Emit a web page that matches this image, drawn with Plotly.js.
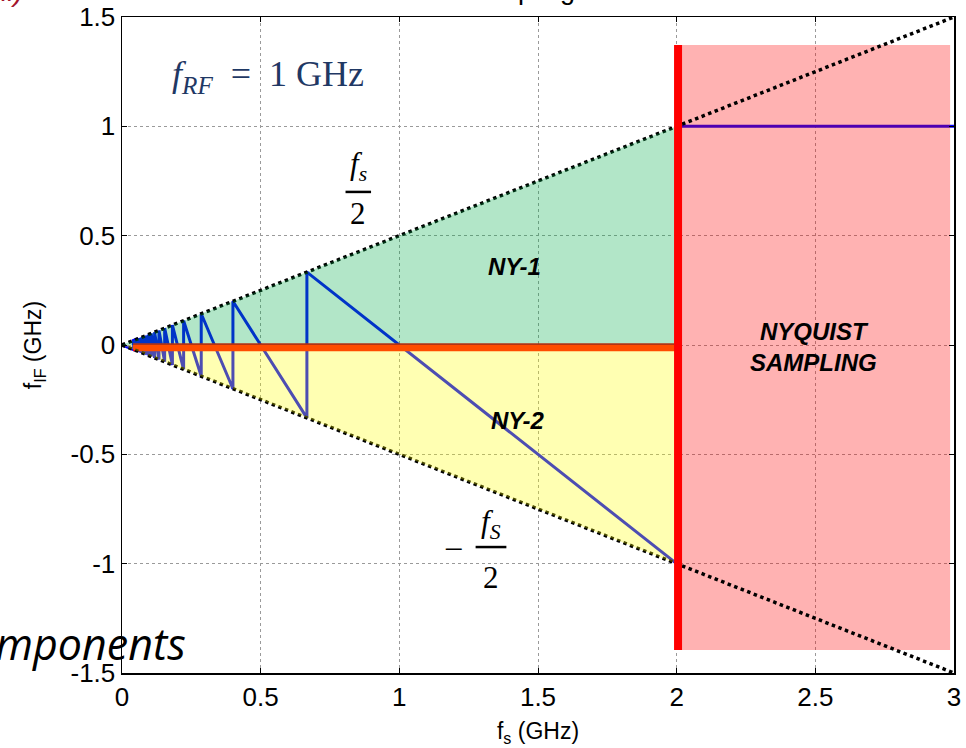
<!DOCTYPE html>
<html>
<head>
<meta charset="utf-8">
<script src="https://cdn.plot.ly/plotly-3.0.1.min.js"></script>
<style>
  html, body { margin: 0; padding: 0; background: #ffffff; overflow: hidden; }
  #chart { width: 966px; height: 748px; }
</style>
</head>
<body>
<div id="chart"></div>
<script>
// Aliased IF frequency of a 1 GHz RF tone versus sampling rate fs (both in GHz)
const aliasFs = [3, 2, 2, 0.6667, 0.6667, 0.4, 0.4, 0.2857, 0.2857, 0.2222, 0.2222,
  0.1818, 0.1818, 0.1538, 0.1538, 0.1333, 0.1333, 0.1176, 0.1176, 0.1053, 0.1053,
  0.0952, 0.0952, 0.0870, 0.0870, 0.0800, 0.0800, 0.0741, 0.0741, 0.0690, 0.0690,
  0.0645, 0.0645, 0.0606, 0.0606, 0.0571, 0.0571, 0.0541, 0.0541, 0.0513, 0.0513,
  0.0488, 0.0488, 0.0465, 0.0465, 0.0444, 0.0444, 0.0425, 0.0425, 0.0408, 0.0408, 0];
const aliasIF = [1, 1, -1, 0.3333, -0.3333, 0.2, -0.2, 0.1429, -0.1429, 0.1111, -0.1111,
  0.0909, -0.0909, 0.0769, -0.0769, 0.0667, -0.0667, 0.0588, -0.0588, 0.0526, -0.0526,
  0.0476, -0.0476, 0.0435, -0.0435, 0.0400, -0.0400, 0.0370, -0.0370, 0.0345, -0.0345,
  0.0323, -0.0323, 0.0303, -0.0303, 0.0286, -0.0286, 0.0270, -0.0270, 0.0256, -0.0256,
  0.0244, -0.0244, 0.0233, -0.0233, 0.0222, -0.0222, 0.0213, -0.0213, 0.0204, -0.0204, 0];

// Nyquist boundaries +fs/2 and -fs/2
const edgeFs = [0, 3];
const upperEdge = [0, 1.5];
const lowerEdge = [0, -1.5];

// Shaded zones
const ny1Fs = [0, 2, 2];
const ny1IF = [0, 1, 0];
const ny2Fs = [0, 2, 2];
const ny2IF = [0, -1, 0];
const nyqFs = [2, 2.986, 2.986, 2];
const nyqIF = [-1.395, -1.395, 1.372, 1.372];

// Zero-IF line and the fs = 2 fRF boundary
const zeroFs = [0.04, 2];
const zeroIF = [-0.01, -0.01];
const boundFs = [2.005, 2.005];
const boundIF = [-1.395, 1.372];

// Axis ticks
const xTicks = [0, 0.5, 1, 1.5, 2, 2.5, 3];
const xTickText = ['0', '0.5', '1', '1.5', '2', '2.5', '3'];
const yTicks = [-1.5, -1, -0.5, 0, 0.5, 1, 1.5];
const yTickText = ['-1.5', '-1', '-0.5', '0', '0.5', '1', '1.5'];

const traces = [
  { x: aliasFs, y: aliasIF, mode: 'lines', line: { color: '#0000ff', width: 3 } },
  { x: zeroFs, y: zeroIF, mode: 'lines', line: { color: '#ff0000', width: 8 } },
  { x: nyqFs, y: nyqIF, mode: 'lines', fill: 'toself', fillcolor: 'rgba(255,0,0,0.3)', line: { width: 0 } },
  { x: edgeFs, y: upperEdge, mode: 'lines', line: { color: '#000000', width: 3.5, dash: 'dot' } },
  { x: edgeFs, y: lowerEdge, mode: 'lines', line: { color: '#000000', width: 3.5, dash: 'dot' } },
  { x: ny1Fs, y: ny1IF, mode: 'lines', fill: 'toself', fillcolor: 'rgba(0,172,72,0.3)', line: { width: 0 } },
  { x: ny2Fs, y: ny2IF, mode: 'lines', fill: 'toself', fillcolor: 'rgba(255,255,0,0.3)', line: { width: 0 } },
  { x: boundFs, y: boundIF, mode: 'lines', line: { color: '#ff0000', width: 8 } }
].map(t => Object.assign({ type: 'scatter', hoverinfo: 'skip', showlegend: false }, t));

const mathFont = { family: 'Liberation Serif, DejaVu Serif, serif', size: 31, color: '#000000' };
const zoneFont = { family: 'Liberation Sans, Arial, sans-serif', size: 24, color: '#000000' };
const tickFont = { family: 'Liberation Sans, Arial, sans-serif', size: 26, color: '#000000' };
const titleFont = { family: 'Liberation Sans, Arial, sans-serif', size: 23, color: '#000000' };

const annotations = [
  { text: '<i>f</i><sub><i>RF</i></sub>\u2002=\u20021 GHz', x: 0.528, y: 1.226,
    font: { family: 'Liberation Serif, DejaVu Serif, serif', size: 36, color: '#1f3864' } },
  { text: '<i>f<sub>s</sub></i>', x: 0.852, y: 0.82, font: mathFont },
  { text: '2', x: 0.852, y: 0.6, font: mathFont },
  { text: '\u2013', x: 1.195, y: -0.92, font: mathFont },
  { text: '<i>f<sub>S</sub></i>', x: 1.33, y: -0.82, font: mathFont },
  { text: '2', x: 1.33, y: -1.065, font: mathFont },
  { text: '<b><i>NY-1</i></b>', x: 1.417, y: 0.357, font: zoneFont },
  { text: '<b><i>NY-2</i></b>', x: 1.428, y: -0.343, font: zoneFont },
  { text: '<b><i>NYQUIST</i></b><br><b><i>SAMPLING</i></b>', x: 2.492, y: -0.01, font: zoneFont },
  { text: 'Subsampling', xref: 'paper', yref: 'paper', x: 0.354, y: 1.016,
    xanchor: 'left', yanchor: 'bottom',
    font: { family: 'Liberation Sans, Arial, sans-serif', size: 27, color: '#000000' } },
  { text: '<i>(ii)</i>', xref: 'paper', yref: 'paper', x: -0.116, y: 1.012,
    xanchor: 'right', yanchor: 'bottom',
    font: { family: 'Liberation Sans, Arial, sans-serif', size: 28, color: '#a3122b' } },
  { text: '<i>Components</i>', xref: 'paper', yref: 'paper', x: 0.079, y: 0.045,
    xanchor: 'right', yanchor: 'middle',
    font: { family: 'Open Sans, sans-serif', size: 43, color: '#000000' } }
].map(a => Object.assign({ xref: 'x', yref: 'y', showarrow: false, xanchor: 'center', yanchor: 'middle' }, a));

const shapes = [
  // fraction bars
  { type: 'line', xref: 'x', yref: 'y', x0: 0.806, x1: 0.898, y0: 0.70, y1: 0.70, line: { color: '#000000', width: 2.5 } },
  { type: 'line', xref: 'x', yref: 'y', x0: 1.275, x1: 1.386, y0: -0.924, y1: -0.924, line: { color: '#000000', width: 2.5 } }
];

const layout = {
  width: 966, height: 748,
  margin: { l: 122, r: 12, t: 17, b: 75 },
  paper_bgcolor: '#ffffff', plot_bgcolor: '#ffffff',
  showlegend: false,
  xaxis: {
    range: [0, 3], tickmode: 'array', tickvals: xTicks, ticktext: xTickText,
    showline: true, linecolor: '#000000', linewidth: 1.5, mirror: 'allticks',
    ticks: 'inside', ticklen: 5, tickwidth: 1, tickcolor: '#000000',
    showgrid: true, gridcolor: '#9a9a9a', griddash: 'dot', gridwidth: 1,
    zeroline: false, fixedrange: true, tickfont: tickFont,
    title: { text: 'f<sub>s</sub> (GHz)', standoff: 12, font: titleFont }
  },
  yaxis: {
    range: [-1.5, 1.5], tickmode: 'array', tickvals: yTicks, ticktext: yTickText,
    showline: true, linecolor: '#000000', linewidth: 1.5, mirror: 'allticks',
    ticks: 'inside', ticklen: 5, tickwidth: 1, tickcolor: '#000000',
    showgrid: true, gridcolor: '#9a9a9a', griddash: 'dot', gridwidth: 1,
    zeroline: false, fixedrange: true, tickfont: tickFont,
    title: { text: 'f<sub>IF</sub> (GHz)', standoff: 22, font: titleFont }
  },
  annotations: annotations,
  shapes: shapes
};

Plotly.newPlot('chart', traces, layout, { displayModeBar: false, staticPlot: true });
</script>
</body>
</html>
